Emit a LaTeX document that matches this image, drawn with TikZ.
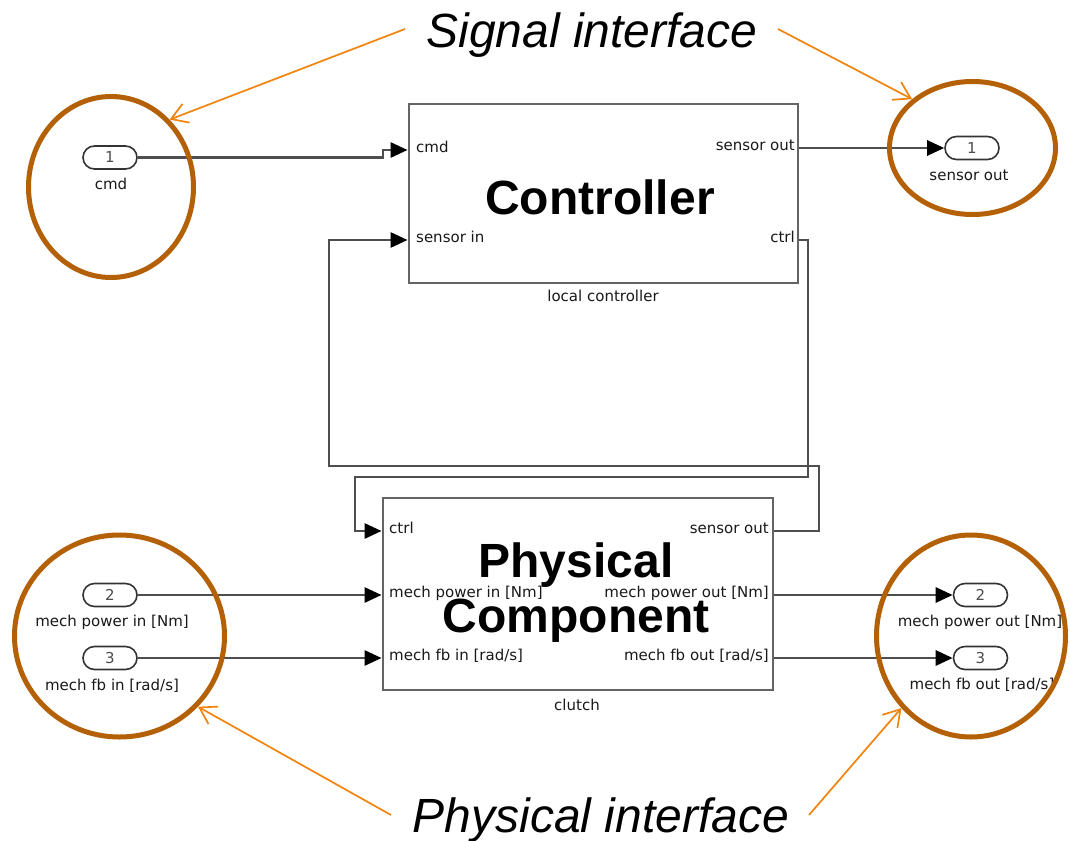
\documentclass[tikz,border=0pt]{standalone}
\usepackage{fontspec}
\setmainfont{DejaVu Sans}
\newfontfamily\arialfont{Liberation Sans}
\usetikzlibrary{arrows.meta,shapes.misc,shapes.geometric}

\definecolor{ringbrown}{RGB}{180,96,6}
\definecolor{callout}{RGB}{240,132,12}
\definecolor{wire}{RGB}{78,78,78}
\definecolor{frame}{RGB}{100,100,100}

\begin{document}
\begin{tikzpicture}[x=1pt,y=-1pt,
  block/.style={draw=frame, line width=2.9pt, fill=white, inner sep=0pt},
  port/.style={rounded rectangle, draw=black!80, line width=1.6pt, fill=white,
    minimum width=54pt, minimum height=23pt, inner sep=0pt,
    text=black!70, font=\fontsize{15}{15}\selectfont},
  lbl/.style={font=\fontsize{15}{15}\selectfont, inner sep=0pt, text=black!90},
  title/.style={font=\arialfont\bfseries\fontsize{48}{48}\selectfont, inner sep=0pt, anchor=base},
  callouttext/.style={font=\arialfont\itshape\fontsize{48}{48}\selectfont, inner sep=0pt, anchor=base},
  wireline/.style={draw=wire, line width=2.8pt},
  sig/.style={wireline, -{Triangle[length=17pt,width=15pt,color=black]}},
  ring/.style={ellipse, draw=ringbrown, line width=5pt, inner sep=0pt},
  pointer/.style={draw=callout, line width=1.7pt, -{Straight Barb[length=16pt,width=20pt]}}
]
\useasboundingbox[fill=white] (0,0) rectangle (1070,840);

% ---- blocks ----
\node[block, minimum width=389pt, minimum height=179pt] (ctl) at (603.5,193.5) {};
\node[block, minimum width=390pt, minimum height=192pt] (phy) at (578,594) {};

\node[title] (ctltitle) at (600,214) {Controller};
\node[title] (phytitle1) at (576,577) {Physical};
\node[title] (phytitle2) at (576,632) {Component};

\node[lbl, anchor=mid] (ctlname) at (603,299) {local controller};
\node[lbl, anchor=mid] (phyname) at (577,708) {clutch};

% ---- port coordinates on the blocks ----
\coordinate (c-cmd) at (ctl.west |- 0,150);
\coordinate (c-sin) at (ctl.west |- 0,240);
\coordinate (c-sout) at (ctl.east |- 0,148);
\coordinate (c-ctrl) at (ctl.east |- 0,240);
\coordinate (p-ctrl) at (phy.west |- 0,531);
\coordinate (p-pin) at (phy.west |- 0,595);
\coordinate (p-fbin) at (phy.west |- 0,658);
\coordinate (p-sout) at (phy.east |- 0,531);
\coordinate (p-pout) at (phy.east |- 0,595);
\coordinate (p-fbout) at (phy.east |- 0,658);

% ---- port labels inside the blocks ----
\node[lbl, anchor=mid west] at (416,150) {cmd};
\node[lbl, anchor=mid west] at (416,240) {sensor in};
\node[lbl, anchor=mid east] at (795,148) {sensor out};
\node[lbl, anchor=mid east] at (795,240) {ctrl};
\node[lbl, anchor=mid west] at (389,531) {ctrl};
\node[lbl, anchor=mid west] at (389,595) {mech power in [Nm]};
\node[lbl, anchor=mid west] at (389,658) {mech fb in [rad/s]};
\node[lbl, anchor=mid east] at (769,531) {sensor out};
\node[lbl, anchor=mid east] at (769,595) {mech power out [Nm]};
\node[lbl, anchor=mid east] at (769,658) {mech fb out [rad/s]};

% ---- inports and outports ----
\node[port] (in1) at (110,157.5) {1};
\node[lbl, anchor=mid] at (111,187) {cmd};
\node[port] (out1) at (972,148) {1};
\node[lbl, anchor=mid] at (969,178) {sensor out};
\node[port] (in2) at (110,595) {2};
\node[lbl, anchor=mid] at (112,624) {mech power in [Nm]};
\node[port] (in3) at (110,658) {3};
\node[lbl, anchor=mid] at (112,688) {mech fb in [rad/s]};
\node[port] (out2) at (980.5,595) {2};
\node[lbl, anchor=mid] at (980,624) {mech power out [Nm]};
\node[port] (out3) at (980.5,658) {3};
\node[lbl, anchor=mid] at (982,687) {mech fb out [rad/s]};

% ---- signal lines ----
\draw[sig] (in1.east) -- (383,157.5) -- (383,150) -- (c-cmd);
\draw[sig] (c-sout) -- (out1.west);
\draw[sig] (p-sout) -- (819,531) -- (819,466) -- (329,466) -- (329,240) -- (c-sin);
\draw[sig] (c-ctrl) -- (808,240) -- (808,477) -- (355,477) -- (355,531) -- (p-ctrl);
\draw[sig] (in2.east) -- (p-pin);
\draw[sig] (in3.east) -- (p-fbin);
\draw[sig] (p-pout) -- (out2.west);
\draw[sig] (p-fbout) -- (out3.west);

% ---- interface rings ----
\node[ring, minimum width=165pt, minimum height=181pt] (ringcmd) at (111,187) {};
\node[ring, minimum width=166pt, minimum height=133pt] (ringsens) at (972.5,148) {};
\node[ring, minimum width=210pt, minimum height=202pt] (ringin) at (119.5,636) {};
\node[ring, minimum width=189pt, minimum height=202pt] (ringout) at (971,636) {};

% ---- callouts ----
\node[callouttext] (sigtext) at (592,48) {Signal interface};
\node[callouttext] (phystext) at (601,832) {Physical interface};
\coordinate (sigL) at (405,29);
\coordinate (sigR) at (778,29);
\coordinate (phyL) at (391,815);
\coordinate (phyR) at (809,815);
\draw[pointer] (sigL) -- (ringcmd.49);
\draw[pointer] (sigR) -- (ringsens.141);
\draw[pointer] (phyL) -- (ringin.-42);
\draw[pointer] (phyR) -- (ringout.-134);
\end{tikzpicture}
\end{document}
